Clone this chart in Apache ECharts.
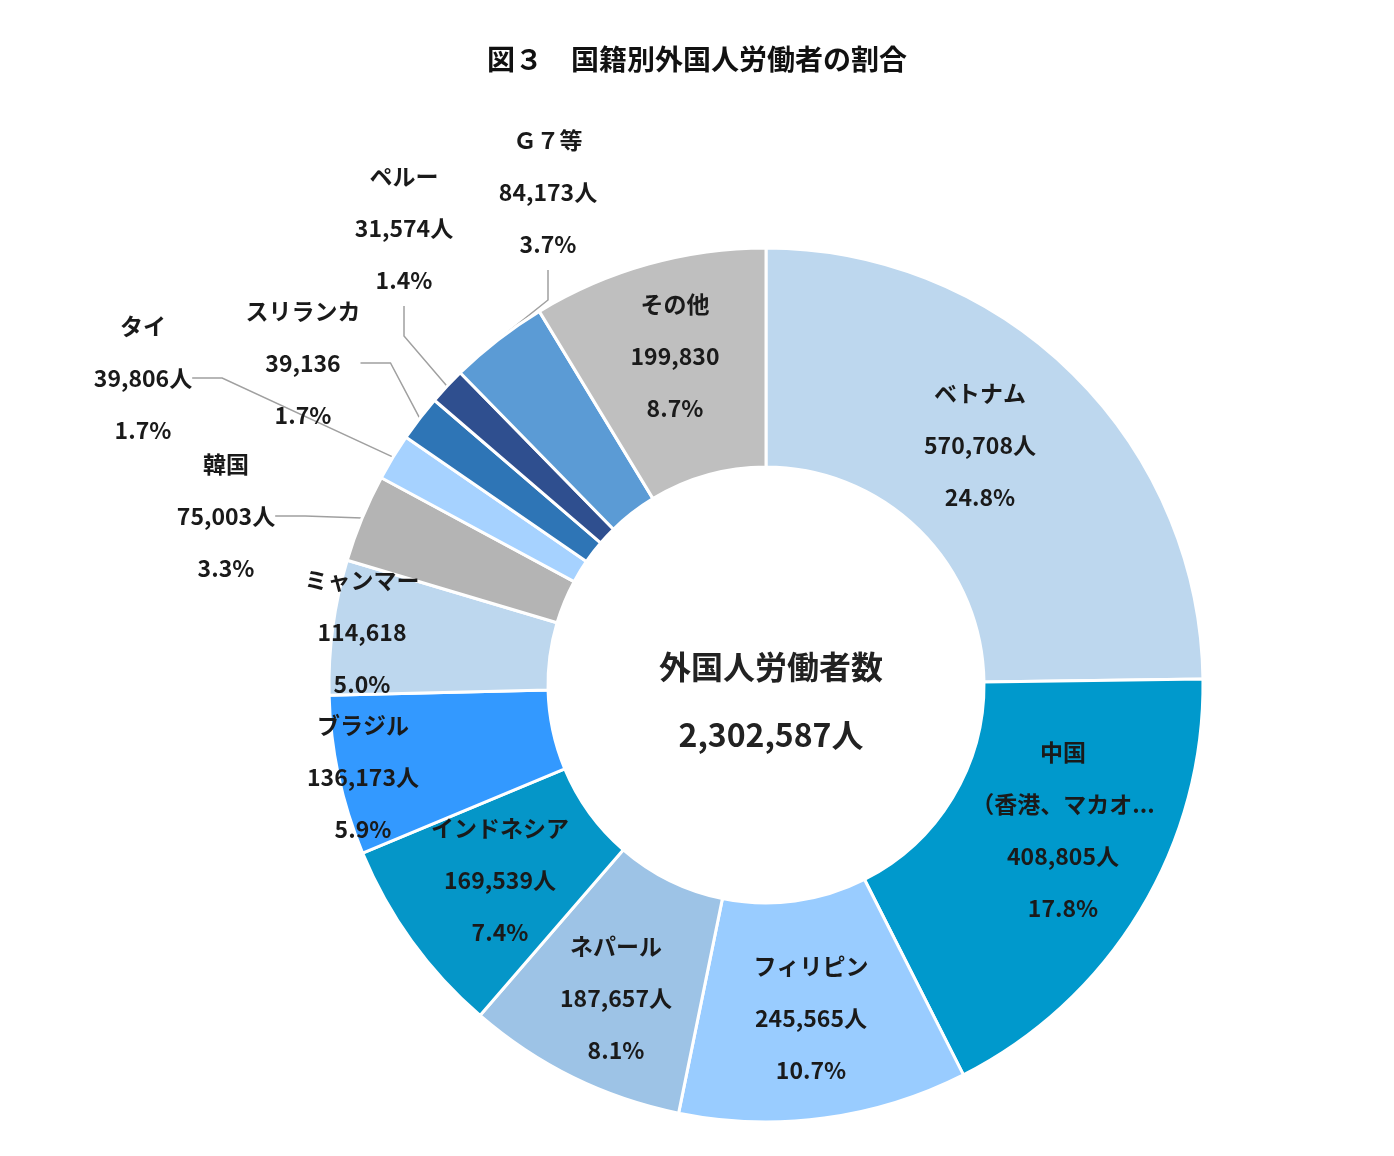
<!DOCTYPE html>
<html><head><meta charset="utf-8">
<script src="https://cdn.jsdelivr.net/npm/echarts@6/dist/echarts.min.js"></script>
<style>html,body{margin:0;background:#fff}#c{width:1394px;height:1156px}</style>
</head><body><div id="c"></div>
<script>
const names = ['ベトナム','中国\n（香港、マカオを含む）','フィリピン','ネパール','インドネシア','ブラジル','ミャンマー','韓国','タイ','スリランカ','ペルー','Ｇ７等','その他'];
const values = [570708,408805,245565,187657,169539,136173,114618,75003,39806,39136,31574,84173,199830];
const suffix = ['人','人','人','人','人','人','','人','人','','人','人',''];
const colors = ['#bdd7ee','#0099cc','#99ccff','#9dc3e6','#0596c8','#3399ff','#bdd7ee','#b4b4b4','#a6d2ff','#2e75b6','#2f4f8f','#5b9bd5','#bfbfbf'];
const labelPos = [[980,445],[1063,830],[811,1018],[616,998],[500,880],[363,777],[362,632],[226,516],[143,378],[303,363],[404,228],[548,192],[675,356]];
const withLine = [false,false,false,false,false,false,false,true,true,true,true,true,false];
const total = values.reduce((a,b)=>a+b,0);
const chart = echarts.init(document.getElementById('c'));
const font = '"Noto Sans CJK JP", sans-serif';
chart.setOption({
  animation:false,
  title:[
    {text:'図３　国籍別外国人労働者の割合',left:'center',top:40,textStyle:{fontFamily:font,fontSize:28,fontWeight:'bold',color:'#111'}},
    {text:'外国人労働者数\n'+total.toLocaleString('en-US')+'人',left:766,top:628,textAlign:'center',
     textStyle:{fontFamily:font,fontSize:32,fontWeight:'bold',color:'#222',lineHeight:68}}
  ],
  series:[{
    type:'pie',center:[766,685],radius:[218,437],startAngle:90,clockwise:true,
    itemStyle:{borderColor:'#fff',borderWidth:3},
    label:{show:true,position:'outside',fontFamily:font,fontSize:23,fontWeight:'bold',color:'#1a1a1a',lineHeight:52,align:'center',
      formatter:p=>p.name+'\n'+values[p.dataIndex].toLocaleString('en-US')+suffix[p.dataIndex]+'\n'+(values[p.dataIndex]/total*100).toFixed(1)+'%'},
    labelLine:{lineStyle:{color:'#a0a0a0',width:1.5}},
    labelLayout:p=>({x:labelPos[p.dataIndex][0],y:labelPos[p.dataIndex][1],align:'center',verticalAlign:'middle'}),
    data:names.map((n,i)=>({name:n,value:values[i],itemStyle:{color:colors[i]},labelLine:{show:withLine[i]}}))
  }]
});
</script></body></html>
